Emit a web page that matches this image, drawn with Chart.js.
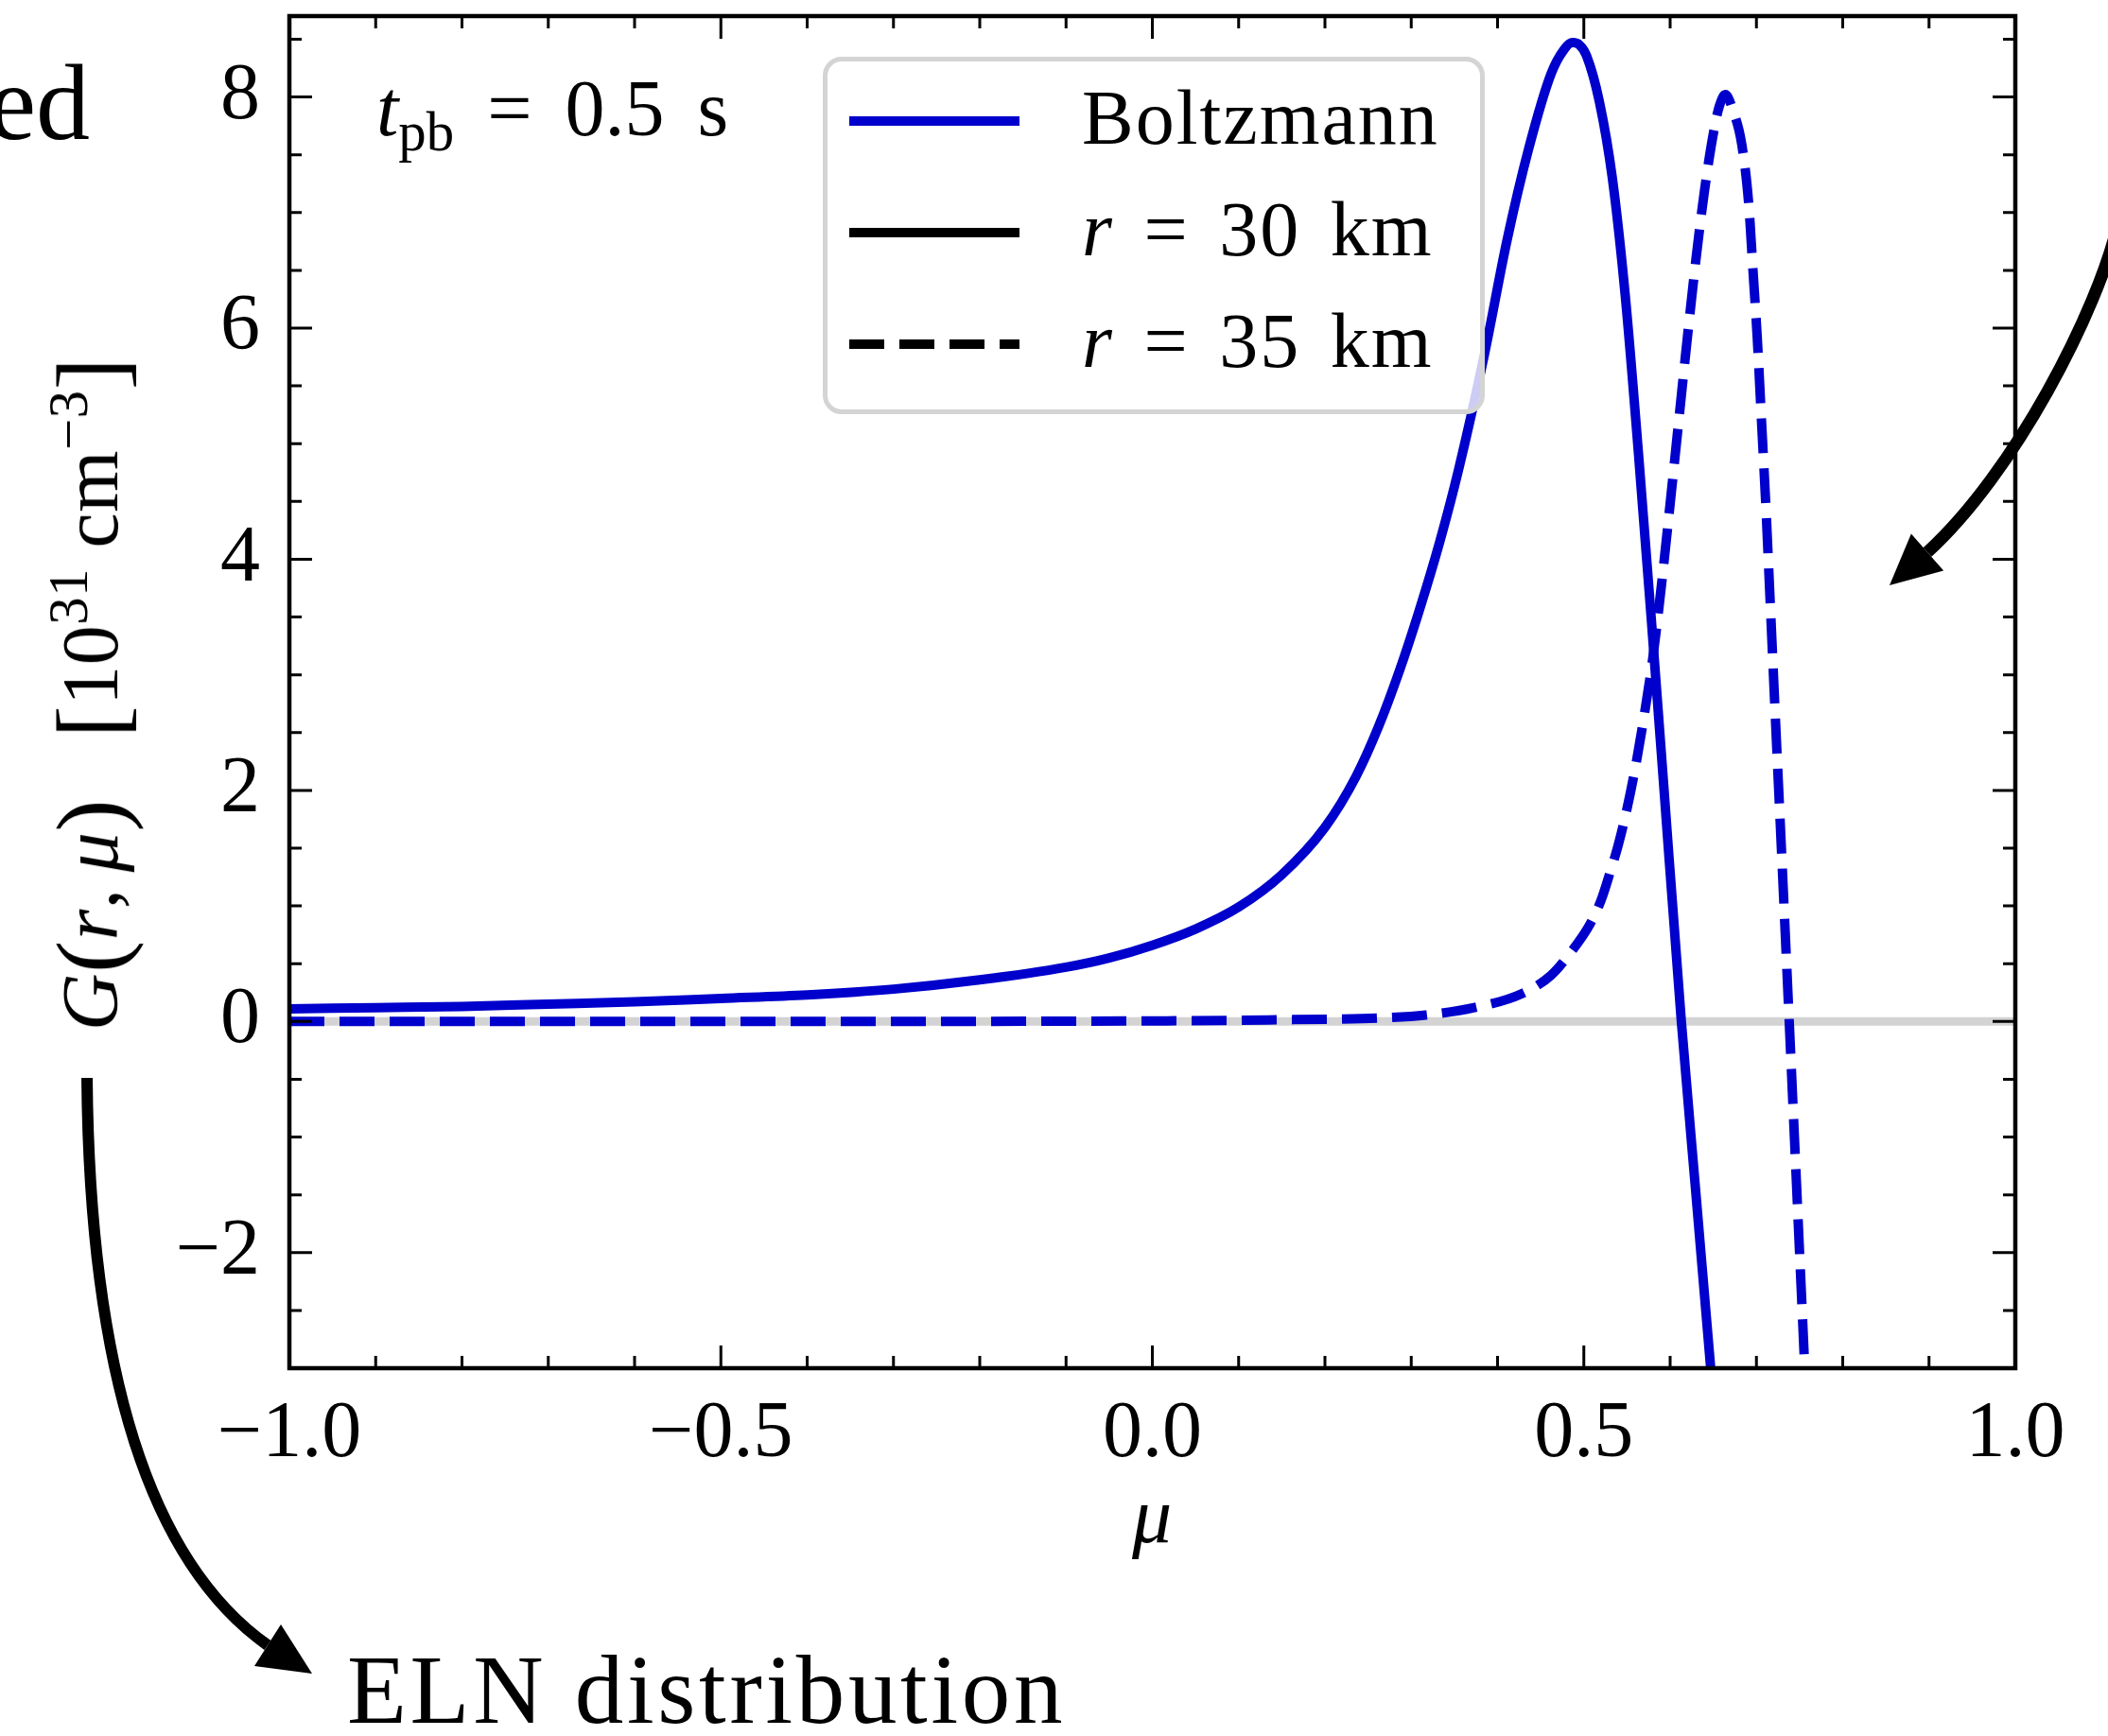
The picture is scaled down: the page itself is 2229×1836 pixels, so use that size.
<!DOCTYPE html>
<html>
<head>
<meta charset="utf-8">
<script src="https://cdn.jsdelivr.net/npm/chart.js@4.4.1/dist/chart.umd.min.js"></script>
<style>
  body { margin: 0; background: #fff; }
  #wrap { position: relative; width: 2229px; height: 1836px; overflow: hidden; font-family: 'Liberation Serif', serif; color: #000; }
  #wrap canvas { position: absolute; left: 0; top: 0; }
  .txt { position: absolute; white-space: nowrap; line-height: 1; }
  .legend-box { position: absolute; box-sizing: border-box; border: 5px solid #d4d4d4; border-radius: 20px; background: rgba(255, 255, 255, 0.8); }
  .sample { position: absolute; height: 10px; }
  .big { font-size: 1.22em; line-height: 0; vertical-align: -0.06em; }
  sub { font-size: 0.7em; vertical-align: -0.28em; line-height: 0; }
  sup { font-size: 0.7em; vertical-align: 0.55em; line-height: 0; }
</style>
</head>
<body>
<div id="wrap">
  <canvas id="eln" width="2229" height="1836"></canvas>
</div>
<script>
// angular ELN distribution G(r, mu) at t_pb = 0.5 s, Boltzmann solution
const mu30 = [-1.0, -0.9, -0.8, -0.7, -0.6, -0.5, -0.4, -0.3, -0.2, -0.1, -0.05, 0.0, 0.05, 0.1, 0.15, 0.2, 0.236, 0.262, 0.287, 0.309, 0.333, 0.355, 0.385, 0.411, 0.436, 0.462, 0.477, 0.487, 0.495, 0.503, 0.518, 0.533, 0.548, 0.564, 0.578, 0.592, 0.613, 0.630, 0.647, 0.660];
const G30 = [0.11, 0.12, 0.13, 0.15, 0.17, 0.20, 0.23, 0.28, 0.36, 0.47, 0.55, 0.66, 0.80, 0.99, 1.27, 1.68, 2.12, 2.55, 3.05, 3.55, 4.15, 4.78, 5.78, 6.76, 7.55, 8.20, 8.41, 8.47, 8.45, 8.36, 7.96, 7.30, 6.28, 4.85, 3.50, 2.10, 0.0, -1.5, -3.0, -4.1];

const mu35 = [-1.0, -0.5, 0.0, 0.1, 0.15, 0.205, 0.261, 0.317, 0.373, 0.428, 0.462, 0.484, 0.507, 0.52, 0.53, 0.54, 0.55, 0.56, 0.57, 0.58, 0.59, 0.60, 0.61, 0.62, 0.63, 0.64, 0.65, 0.657, 0.664, 0.673, 0.683, 0.691, 0.696, 0.701, 0.706, 0.711, 0.716, 0.722, 0.728, 0.738, 0.747, 0.756, 0.762];
const G35 = [0.0, 0.0, 0.005, 0.01, 0.015, 0.02, 0.03, 0.056, 0.12, 0.24, 0.40, 0.59, 0.84, 1.05, 1.28, 1.53, 1.84, 2.21, 2.65, 3.15, 3.78, 4.48, 5.20, 5.92, 6.60, 7.20, 7.68, 7.92, 8.02, 7.88, 7.59, 7.08, 6.50, 5.91, 5.18, 4.45, 3.62, 2.62, 1.65, 0.0, -1.5, -3.0, -4.0];

const xTicks = [-1.0, -0.5, 0.0, 0.5, 1.0];
const yTicks = [-2, 0, 2, 4, 6, 8];
const xRange = [-1, 1];
const yRange = [-3, 8.7];

const legendItems = [
  { label: 'Boltzmann', color: '#0000cc', dashed: false },
  { label: '<i>r</i> = 30 km', color: '#000', dashed: false },
  { label: '<i>r</i> = 35 km', color: '#000', dashed: true }
];

const blue = '#0000cc';
const font = 'Liberation Serif';

function pts(xs, ys) {
  return xs.map((x, i) => ({ x: x, y: ys[i] }));
}

function minus(v, digits) {
  let s = digits ? Math.abs(v).toFixed(digits) : String(Math.abs(v));
  return (v < 0 ? '\u2212' : '') + s;
}

// frame + inward ticks on all four sides
const frameTicks = {
  id: 'frameTicks',
  afterDatasetsDraw(chart) {
    const { ctx, chartArea: a, scales: { x, y } } = chart;
    ctx.save();
    ctx.strokeStyle = '#000';
    ctx.lineWidth = 3;
    ctx.beginPath();
    for (let i = -10; i <= 10; i++) {
      const px = x.getPixelForValue(i / 10);
      const len = i % 5 === 0 ? 24 : 13;
      ctx.moveTo(px, a.bottom); ctx.lineTo(px, a.bottom - len);
      ctx.moveTo(px, a.top); ctx.lineTo(px, a.top + len);
    }
    for (let v = -3; v <= yRange[1]; v += 0.5) {
      const py = y.getPixelForValue(v);
      const len = v % 2 === 0 ? 24 : 13;
      ctx.moveTo(a.left, py); ctx.lineTo(a.left + len, py);
      ctx.moveTo(a.right, py); ctx.lineTo(a.right - len, py);
    }
    ctx.stroke();
    ctx.lineWidth = 4.5;
    ctx.strokeRect(a.left, a.top, a.right - a.left, a.bottom - a.top);
    ctx.restore();
  }
};

function arrow(ctx, p0, p1, p2, p3, tip, width) {
  ctx.lineWidth = width;
  ctx.beginPath();
  ctx.moveTo(p0[0], p0[1]);
  ctx.bezierCurveTo(p1[0], p1[1], p2[0], p2[1], p3[0], p3[1]);
  ctx.stroke();
  // arrow head from the curve end to the tip
  const dx = tip[0] - p3[0], dy = tip[1] - p3[1];
  const len = Math.hypot(dx, dy);
  const ux = dx / len, uy = dy / len;
  const hw = 26;
  ctx.beginPath();
  ctx.moveTo(tip[0], tip[1]);
  ctx.lineTo(p3[0] - uy * hw, p3[1] + ux * hw);
  ctx.lineTo(p3[0] + uy * hw, p3[1] - ux * hw);
  ctx.closePath();
  ctx.fill();
}

// annotation arrows around the panel
const arrows = {
  id: 'arrows',
  afterDraw(chart) {
    const ctx = chart.ctx;
    ctx.save();
    ctx.strokeStyle = '#000';
    ctx.fillStyle = '#000';
    arrow(ctx, [92, 1140], [95, 1480], [170, 1660], [283, 1740], [330, 1770], 12);
    arrow(ctx, [2240, 235], [2218, 330], [2130, 500], [2038, 584], [1998, 619], 13);
    ctx.restore();
  }
};

const ctx = document.getElementById('eln').getContext('2d');
const chart = new Chart(ctx, {
  type: 'line',
  data: {
    datasets: [{
      label: 'zero',
      data: pts(xRange, [0, 0]),
      borderColor: '#d3d3d3',
      borderWidth: 9,
      pointRadius: 0,
      clip: 0,
      order: 3
    }, {
      label: 'r = 35 km',
      data: pts(mu35, G35),
      borderColor: blue,
      borderWidth: 10,
      borderDash: [37, 16],
      borderJoinStyle: 'round',
      pointRadius: 0,
      cubicInterpolationMode: 'monotone',
      clip: 0,
      order: 2
    }, {
      label: 'r = 30 km',
      data: pts(mu30, G30),
      borderColor: blue,
      borderWidth: 10,
      borderJoinStyle: 'round',
      pointRadius: 0,
      cubicInterpolationMode: 'monotone',
      clip: 0,
      order: 1
    }]
  },
  options: {
    responsive: false,
    animation: false,
    devicePixelRatio: 1,
    layout: { padding: { left: 0, right: 98, top: 17, bottom: 0 } },
    plugins: { legend: { display: false }, tooltip: { enabled: false } },
    scales: {
      x: {
        type: 'linear',
        min: xRange[0],
        max: xRange[1],
        grid: { display: false },
        border: { display: false },
        afterBuildTicks: s => { s.ticks = xTicks.map(v => ({ value: v })); },
        afterFit: s => { s.height = 389; s.paddingLeft = 0; s.paddingRight = 0; },
        ticks: {
          padding: 13,
          maxRotation: 0,
          color: '#000',
          font: { family: font, size: 84 },
          callback: v => minus(v, 1)
        }
      },
      y: {
        type: 'linear',
        min: yRange[0],
        max: yRange[1],
        grid: { display: false },
        border: { display: false },
        afterBuildTicks: s => { s.ticks = yTicks.map(v => ({ value: v })); },
        afterFit: s => { s.width = 306; s.paddingTop = 0; s.paddingBottom = 0; },
        ticks: {
          padding: 23,
          color: '#000',
          font: { family: font, size: 84 },
          callback: v => minus(v)
        }
      }
    }
  },
  plugins: [frameTicks, arrows]
});

// text and legend drawn as page elements over the canvas
const wrap = document.getElementById('wrap');

function addText(html, x, baseline, size, extra) {
  const d = document.createElement('div');
  d.className = 'txt';
  d.innerHTML = html;
  d.style.fontSize = size + 'px';
  d.style.left = x + 'px';
  d.style.top = (baseline - size * 0.8375) + 'px';
  if (extra) Object.assign(d.style, extra);
  wrap.appendChild(d);
  return d;
}

// axis titles
const yTitle = document.createElement('div');
yTitle.className = 'txt';
yTitle.innerHTML = '<i>G</i><span class="big">(</span><i>r</i>,&thinsp;<i>\u03bc</i><span class="big">)</span>&nbsp;&nbsp;&nbsp;' +
  '<span class="big">[</span>10<sup>31</sup>&nbsp;cm<sup>\u22123</sup><span class="big">]</span>';
Object.assign(yTitle.style, { fontSize: '84px', letterSpacing: '0.5px', left: '96px', top: '734px', transform: 'translate(-50%, -50%) rotate(-90deg)' });
wrap.appendChild(yTitle);

const xTitle = document.createElement('div');
xTitle.className = 'txt';
xTitle.innerHTML = '<i>\u03bc</i>';
Object.assign(xTitle.style, { fontSize: '84px', left: '1218px', top: '1603px', transform: 'translate(-50%, -50%)' });
wrap.appendChild(xTitle);

addText('<i>t</i><sub>pb</sub> = 0.5 s', 398, 143, 84, { wordSpacing: '14px' });

// legend
const box = document.createElement('div');
box.className = 'legend-box';
Object.assign(box.style, { left: '870px', top: '60px', width: '700px', height: '378px' });
wrap.appendChild(box);

legendItems.forEach((item, i) => {
  const cy = 128 + i * 118;
  const s = document.createElement('div');
  s.className = 'sample';
  s.style.left = '898px';
  s.style.top = (cy - 5) + 'px';
  s.style.width = '180px';
  s.style.background = item.dashed
    ? 'repeating-linear-gradient(90deg, ' + item.color + ' 0 37px, transparent 37px 53px)'
    : item.color;
  wrap.appendChild(s);
  addText(item.label, 1144, cy + 25, 82, { letterSpacing: '2px', wordSpacing: '9px' });
});

// surrounding figure labels
addText('ed', -200, 147, 114, { width: '295px', textAlign: 'right' });
addText('ELN distribution', 367, 1822, 103, { letterSpacing: '3.7px' });
</script>
</body>
</html>
